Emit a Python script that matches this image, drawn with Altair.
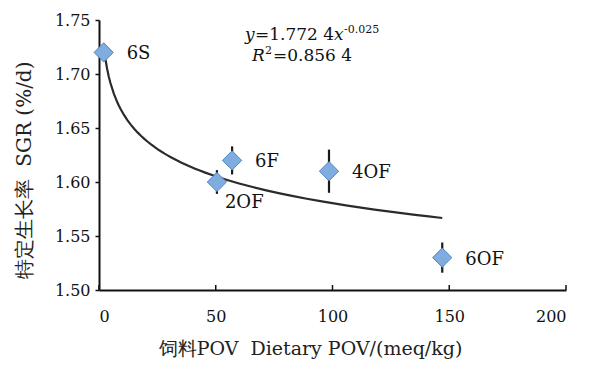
import altair as alt
import pandas as pd

labels = ["6S", "2OF", "6F", "4OF", "6OF"]
pov = [2, 50.5, 57, 98.5, 147]
sgr = [1.72, 1.60, 1.62, 1.61, 1.53]
err = [0.0, 0.011, 0.013, 0.02, 0.014]
x_ticks = [0, 50, 100, 150, 200]
y_ticks = [1.50, 1.55, 1.60, 1.65, 1.70, 1.75]

df = pd.DataFrame({"label": labels, "pov": pov, "sgr": sgr, "err": err})

SERIF = "DejaVu Serif"
NB = "\u00a0"

xs = alt.Scale(domain=[0, 200], nice=False)
ys = alt.Scale(domain=[1.50, 1.75], nice=False, zero=False)

xenc = alt.X("pov:Q", scale=xs,
             axis=alt.Axis(values=x_ticks, ticks=False, grid=False,
                           title="饲料POV" + NB + " Dietary POV/(meq/kg)",
                           titleX=211, titleY=58, titleBaseline="middle",
                           titleFontSize=19,
                           labelPadding=18, format="d"))
yenc = alt.Y("sgr:Q", scale=ys,
             axis=alt.Axis(values=y_ticks, grid=False, format=".2f",
                           tickSize=4, tickWidth=1.5,
                           title="特定生长率" + NB + " SGR (%/d)",
                           titleX=-75, titleY=150, titleBaseline="middle",
                           titleFontSize=20,
                           labelPadding=5))

base = alt.Chart(df)

curve = base.transform_regression("pov", "sgr", method="pow").mark_line(
    color="#2b2b2b", strokeWidth=2.2).encode(x=xenc, y=yenc)

bars = base.transform_filter("datum.err > 0").transform_calculate(
    lo="datum.sgr - datum.err", hi="datum.sgr + datum.err").mark_rule(
    color="#1a1a1a", strokeWidth=2.2).encode(
    x="pov:Q", y="lo:Q", y2="hi:Q")

pts = base.mark_point(shape="diamond", filled=True, size=370,
                      fill="#7fade0", stroke="#4f86c0", strokeWidth=1,
                      opacity=1).encode(x="pov:Q", y="sgr:Q")

lab_right = base.transform_filter("datum.label != '2OF'").mark_text(
    align="left", baseline="middle", dx=23, dy=2, font=SERIF,
    fontSize=18, color="#111").encode(x="pov:Q", y="sgr:Q", text="label:N")
lab_below = base.transform_filter("datum.label == '2OF'").mark_text(
    align="left", baseline="middle", dx=8, dy=21, font=SERIF,
    fontSize=18, color="#111").encode(x="pov:Q", y="sgr:Q", text="label:N")

xt = pd.DataFrame({"t": x_ticks})
xtick_marks = alt.Chart(xt).mark_rule(color="#111", strokeWidth=1.5).encode(
    x=alt.X("t:Q", scale=xs), y=alt.value(270), y2=alt.value(265))


def txt(s, x, y, size=17, style="normal", align="left"):
    return alt.Chart(pd.DataFrame({"s": [s]})).mark_text(
        align=align, baseline="alphabetic", font=SERIF, fontSize=size,
        fontStyle=style, color="#111").encode(
        text="s:N", x=alt.value(x), y=alt.value(y))

eq = [
    txt("y", 146, 20, style="italic"),
    txt("=1.772" + NB + "4", 156, 20),
    txt("x", 235, 20, style="italic"),
    txt("-0.025", 245, 13, size=11),
    txt("R", 153, 41, style="italic"),
    txt("2", 166, 34, size=11),
    txt("=0.856" + NB + "4", 174, 41),
]

chart = alt.layer(curve, bars, pts, lab_right, lab_below, xtick_marks, *eq).properties(
    width=467, height=270,
    autosize=alt.AutoSizeParams(type="none"),
    padding={"left": 91, "top": 12, "right": 10, "bottom": 75},
).configure_axis(
    domainColor="#111", domainWidth=2, tickColor="#111",
    labelFont=SERIF, labelFontSize=16, labelColor="#111",
    titleFont=SERIF, titleColor="#222", titleFontWeight="normal",
).configure_view(stroke=None)

chart.save("out.html", embed_options={"renderer": "svg", "actions": False})
